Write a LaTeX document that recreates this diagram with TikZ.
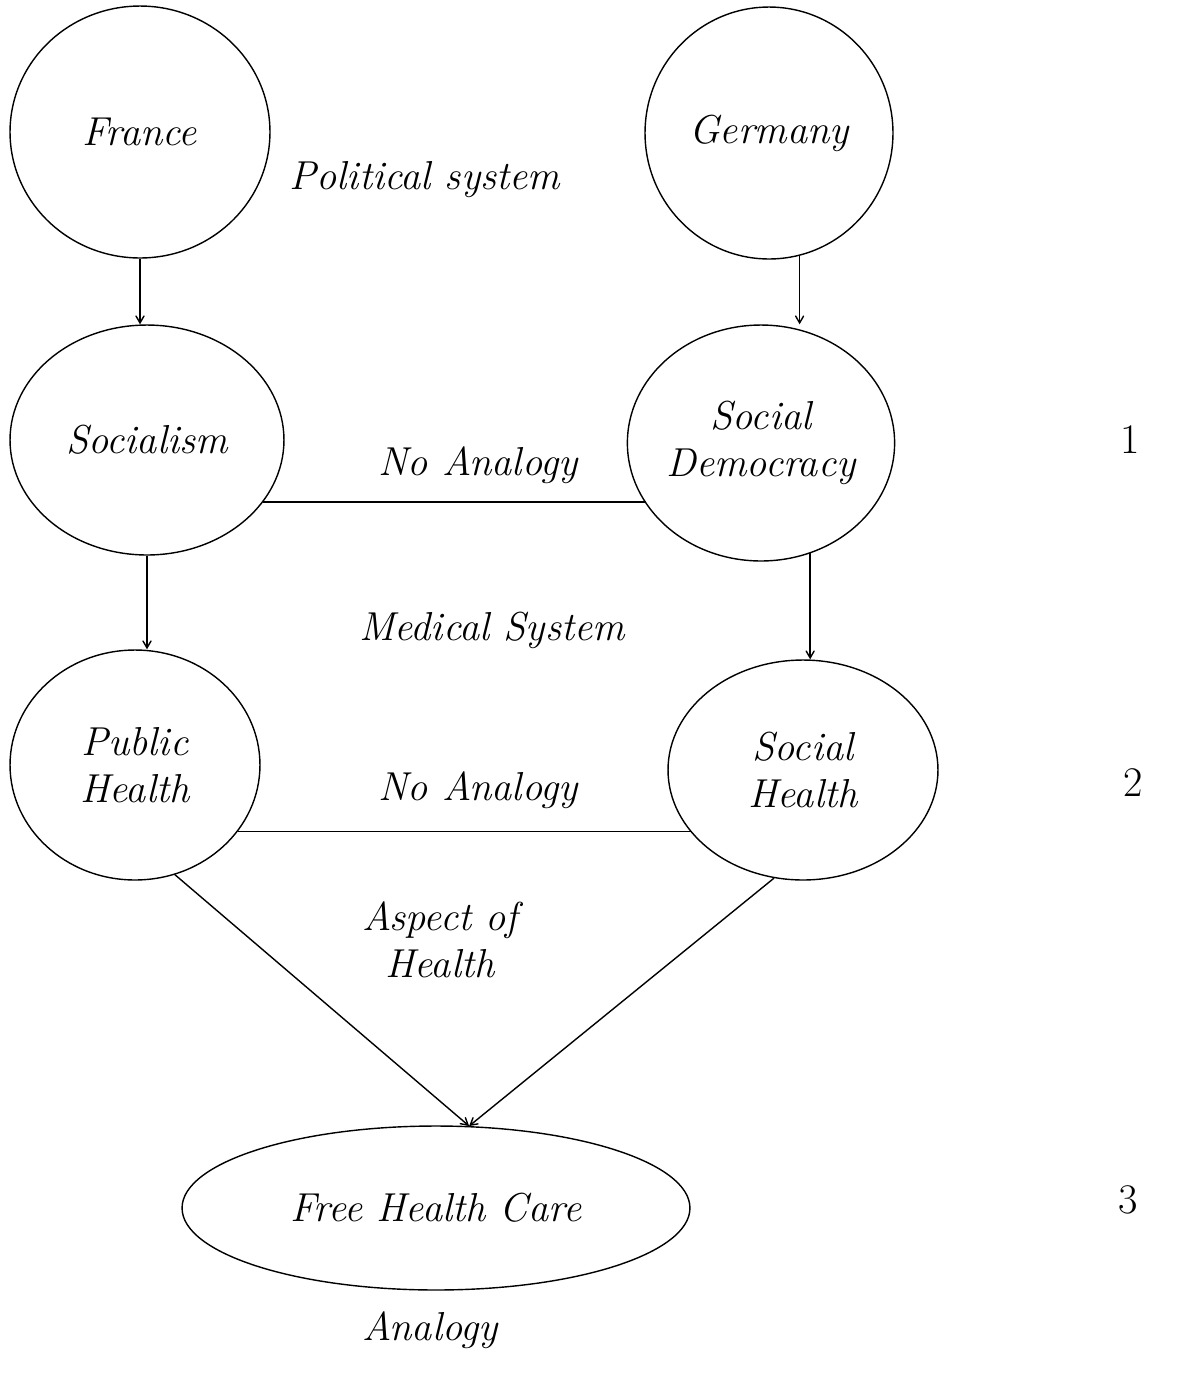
\documentclass[tikz,border=0pt]{standalone}
\usepackage{tikz}
\usetikzlibrary{shapes.geometric, arrows, positioning, calc}

\tikzset{
    country/.style={draw, thick, ellipse, inner sep=0pt, align=center},
    remark/.style={align=center},
    level/.style={font=\fontsize{24}{28}\selectfont\upshape}
}

\begin{document}
\begin{tikzpicture}[x=0.02cm, y=-0.02cm, >=angle 60, font=\fontsize{23}{27}\selectfont\itshape]
    \useasboundingbox (0,0) rectangle (1185,1384);

    % top row: the two countries
    \node [country, minimum width=5.2cm, minimum height=5.04cm] (fr) at (140,132) {France};
    \node [country, minimum width=4.96cm, minimum height=5.04cm] (de) at (769,133) {Germany};
    \node [remark] (pol) at (425,180) {Political system};

    % political systems
    \node [country, minimum width=5.48cm, minimum height=4.6cm] (soc) at (147,440) {Socialism};
    \node [country, minimum width=4.76cm, minimum height=4.72cm] (sd) at (761,443) {Social\\Democracy};
    \node [remark] (na1) at (478,465) {No Analogy};

    % medical systems
    \node [remark] (med) at (492,630) {Medical System};
    \node [country, minimum width=5.0cm, minimum height=4.6cm] (ph) at (135,765) {Public\\Health};
    \node [country, minimum width=5.4cm, minimum height=4.4cm] (sh) at (803,770) {Social\\Health};
    \node [remark] (na2) at (478,790) {No Analogy};
    \node [remark] (asp) at (440,940) {Aspect of\\Health};

    % the common outcome
    \node [country, minimum width=10.16cm, minimum height=3.28cm] (fhc) at (436,1208) {Free Health Care};
    \node [remark] (ana) at (430,1330) {Analogy};

    % levels
    \node [level] (l1) at (1130,440) {1};
    \node [level] (l2) at (1133,783) {2};
    \node [level] (l3) at (1128,1200) {3};

    % vertical arrows
    \draw [->, thick] (fr.south) -- (fr.south |- soc.north);
    \draw [->, thick] (de.-76) -- (de.-76 |- sd.north);
    \draw [->, thick] (soc.south) -- (soc.south |- ph.north);
    \draw [->, thick] (sd.-66) -- (sd.-66 |- sh.north);

    % no analogy lines
    \draw [thick] (soc.-28) -- (sd.-152 |- soc.-28);
    \draw [thick] (ph.-33) -- (sh.-151 |- ph.-33);

    % towards the analogy
    \draw [->, thick] (ph.-70) -- (fhc.68);
    \draw [->, thick] (sh.-105) -- (fhc.68);
\end{tikzpicture}
\end{document}
